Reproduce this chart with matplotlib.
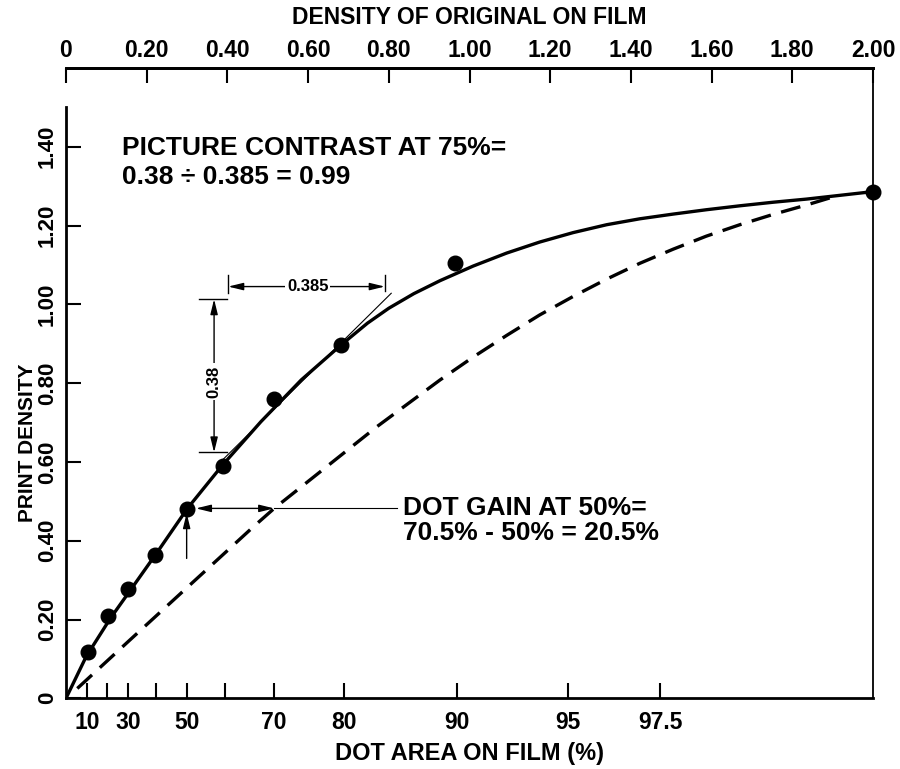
import matplotlib
matplotlib.use("Agg")
import matplotlib.pyplot as plt

plt.rcParams['font.family'] = ['Liberation Sans', 'DejaVu Sans']
plt.rcParams['font.weight'] = 'bold'
plt.rcParams['axes.labelweight'] = 'bold'

# top axis: density of original on film
density_ticks = [0, 0.2, 0.4, 0.6, 0.8, 1.0, 1.2, 1.4, 1.6, 1.8, 2.0]
density_labels = ['0', '0.20', '0.40', '0.60', '0.80', '1.00', '1.20', '1.40', '1.60', '1.80', '2.00']

# bottom axis: dot area ticks, placed on the density scale
dot_area_pos = [0.052, 0.102, 0.153, 0.224, 0.300, 0.394, 0.515, 0.690, 0.970, 1.245, 1.472]
dot_area_labels = ['10', '', '30', '', '50', '', '70', '80', '90', '95', '97.5']

print_ticks = [0, 0.2, 0.4, 0.6, 0.8, 1.0, 1.2, 1.4]
print_labels = ['0', '0.20', '0.40', '0.60', '0.80', '1.00', '1.20', '1.40']

# measured points
dot_x = [0.054, 0.104, 0.153, 0.220, 0.300, 0.390, 0.515, 0.682, 0.963, 2.00]
dot_y = [0.118, 0.210, 0.277, 0.364, 0.480, 0.590, 0.759, 0.897, 1.104, 1.286]

# smooth print curve
solid_x = [0, 0.05, 0.11, 0.16, 0.227, 0.301, 0.388, 0.483, 0.583, 0.682, 0.747, 0.80, 0.862,
           0.927, 1.009, 1.092, 1.174, 1.257, 1.34, 1.422, 1.505, 1.587, 1.67, 1.752, 1.835, 2.0]
solid_y = [0, 0.106, 0.203, 0.275, 0.372, 0.482, 0.592, 0.702, 0.808, 0.897, 0.952, 0.990, 1.027,
           1.060, 1.097, 1.130, 1.158, 1.182, 1.202, 1.217, 1.229, 1.240, 1.250, 1.259, 1.267, 1.286]

# dashed reference curve
dash_x = [0.028, 0.152, 0.30, 0.464, 0.516, 0.77, 0.927, 1.009, 1.092, 1.174, 1.257, 1.34,
          1.422, 1.505, 1.587, 1.67, 1.752, 1.835, 1.893]
dash_y = [0.025, 0.142, 0.281, 0.435, 0.482, 0.689, 0.808, 0.866, 0.921, 0.973, 1.020, 1.064,
          1.104, 1.140, 1.173, 1.202, 1.228, 1.252, 1.270]

fig = plt.figure(figsize=(9, 7.69), dpi=100)
ax = fig.add_axes([66/900, 70.7/769, 807/900, 630.4/769])
ax.set_xlim(0, 2.0)
ax.set_ylim(0, 1.6)

ax.plot(solid_x, solid_y, color='black', lw=2.4, solid_capstyle='round', solid_joinstyle='round')
ax.plot(dash_x, dash_y, color='black', lw=2.4, dashes=(6, 3.2))
ax.plot(dot_x, dot_y, 'o', color='black', ms=10.5, clip_on=False, zorder=5)

# tangent at 75%
ax.plot([0.388, 0.806], [0.605, 1.028], color='black', lw=0.8)

arw = dict(arrowstyle='<|-|>,head_length=0.9,head_width=0.22', color='black', lw=1.0,
           shrinkA=0, shrinkB=0)
# vertical dimension 0.38
ax.plot([0.33, 0.40], [1.013, 1.013], color='black', lw=1.0)
ax.plot([0.33, 0.40], [0.624, 0.624], color='black', lw=1.0)
ax.annotate('', xy=(0.367, 1.013), xytext=(0.367, 0.624), arrowprops=arw)
ax.text(0.367, 0.804, '0.38', rotation=90, ha='center', va='center', fontsize=12,
        bbox=dict(facecolor='white', edgecolor='none', pad=1.5))
# horizontal dimension 0.385
ax.plot([0.402, 0.402], [1.028, 1.074], color='black', lw=1.0)
ax.plot([0.79, 0.79], [1.034, 1.074], color='black', lw=1.0)
ax.annotate('', xy=(0.402, 1.045), xytext=(0.79, 1.045), arrowprops=arw)
ax.text(0.599, 1.045, '0.385', ha='center', va='center', fontsize=12,
        bbox=dict(facecolor='white', edgecolor='none', pad=1.5))

# dot gain arrows
ax.annotate('', xy=(0.322, 0.482), xytext=(0.516, 0.482), arrowprops=arw)
ax.plot([0.516, 0.82], [0.482, 0.482], color='black', lw=0.8)
ax.annotate('', xy=(0.299, 0.47), xytext=(0.299, 0.355),
            arrowprops=dict(arrowstyle='-|>,head_length=0.9,head_width=0.22', color='black',
                            lw=1.0, shrinkA=0, shrinkB=0))

ax.text(0.14, 1.396, 'PICTURE CONTRAST AT 75%=', fontsize=19, va='center')
ax.text(0.14, 1.324, '0.38 ÷ 0.385 = 0.99', fontsize=19, va='center')
ax.text(0.835, 0.483, 'DOT GAIN AT 50%=', fontsize=19, va='center')
ax.text(0.835, 0.419, '70.5% - 50% = 20.5%', fontsize=19, va='center')

# axes styling
for s in ['left', 'top', 'bottom']:
    ax.spines[s].set_linewidth(2.0)
ax.spines['right'].set_linewidth(1.3)
ax.spines['left'].set_bounds(0, 1.5)

ax.set_xticks(dot_area_pos)
ax.set_xticklabels(dot_area_labels, fontsize=16.5)
ax.set_yticks(print_ticks)
ax.set_yticklabels(print_labels, fontsize=16, rotation=90, va='center')
ax.tick_params(axis='both', direction='in', length=11, width=1.5)
ax.tick_params(axis='x', pad=9)
ax.tick_params(axis='y', pad=6)

top = ax.secondary_xaxis('top')
top.set_xticks(density_ticks)
top.set_xticklabels(density_labels, fontsize=16.5)
top.tick_params(direction='in', length=11, width=1.5, pad=4)
top.spines['top'].set_linewidth(2.0)
top.set_xlabel('DENSITY OF ORIGINAL ON FILM', fontsize=16.5, labelpad=11)

ax.set_xlabel('DOT AREA ON FILM (%)', fontsize=17, labelpad=6)
ax.set_ylabel('PRINT DENSITY', fontsize=15)
ax.yaxis.set_label_coords(-0.036, 0.406)

fig.savefig('out.png', dpi=100)
